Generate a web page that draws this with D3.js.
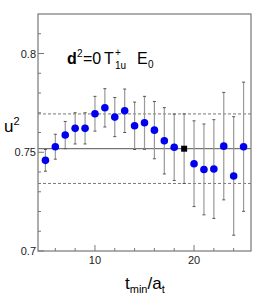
<!DOCTYPE html>
<html><head><meta charset="utf-8">
<script src="https://cdn.jsdelivr.net/npm/d3@7"></script>
<style>body{margin:0;background:#fff}svg{display:block}</style>
</head><body>
<svg id="c" width="266" height="297"></svg>
<script>
const tmin = [5,6,7,8,9,10,11,12,13,14,15,16,17,18,19,20,21,22,23,24,25];
const u2   = [0.7459,0.7528,0.7587,0.7621,0.7621,0.7695,0.7725,0.7678,0.7710,0.7634,0.7649,0.7612,0.7558,0.7525,0.7518,0.7442,0.7413,0.7415,0.7531,0.7380,0.7528];
const err  = [0.0055,0.0063,0.0069,0.0079,0.0079,0.0088,0.0097,0.0099,0.0110,0.0120,0.0134,0.0145,0.0168,0.0168,0.0176,0.0217,0.0230,0.0250,0.0272,0.0300,0.0327];
const chosen = 19;
const fitValue = 0.7518, fitErr = 0.0176;
const yTicks = [0.7,0.75,0.8];
const yTickLabels = ["0.7","0.75","0.8"];
const xTicks = [10,20];

const svg = d3.select("#c");
const L=38, R=251, T=14, B=251;
const x = d3.scaleLinear().domain([4.25,25.75]).range([L,R]);
const y = d3.scaleLinear().domain([0.7,0.82]).range([B,T]);
const axisCol="#777";
const ff="Liberation Sans, Arial, sans-serif";

// fit lines
svg.append("line").attr("x1",L).attr("x2",R).attr("y1",y(fitValue)).attr("y2",y(fitValue))
  .attr("stroke","#555").attr("stroke-width",1);
[fitValue+fitErr, fitValue-fitErr].forEach(v=>{
  svg.append("line").attr("x1",L).attr("x2",R).attr("y1",y(v)).attr("y2",y(v))
    .attr("stroke","#555").attr("stroke-width",0.8).attr("stroke-dasharray","3,2");
});

// ticks inside
const yMinor = d3.range(0.71,0.82,0.01).filter(v=>!yTicks.some(t=>Math.abs(t-v)<1e-6));
yMinor.forEach(v=>svg.append("line").attr("x1",L).attr("x2",L+3).attr("y1",y(v)).attr("y2",y(v)).attr("stroke",axisCol));
yTicks.forEach((v,i)=>{
  svg.append("line").attr("x1",L).attr("x2",L+6).attr("y1",y(v)).attr("y2",y(v)).attr("stroke",axisCol);
  svg.append("text").attr("x",L-2).attr("y",y(v)+4).attr("text-anchor","end")
    .attr("font-family",ff).attr("font-size",11).attr("fill","#222").text(yTickLabels[i]);
});
const xMinor = d3.range(6,26,2).filter(v=>!xTicks.includes(v));
xMinor.forEach(v=>svg.append("line").attr("x1",x(v)).attr("x2",x(v)).attr("y1",B).attr("y2",B-3).attr("stroke",axisCol));
xTicks.forEach(v=>{
  svg.append("line").attr("x1",x(v)).attr("x2",x(v)).attr("y1",B).attr("y2",B-6).attr("stroke",axisCol);
  svg.append("text").attr("x",x(v)).attr("y",B+13).attr("text-anchor","middle")
    .attr("font-family",ff).attr("font-size",11).attr("fill","#222").text(v);
});

// error bars
const g = svg.append("g");
tmin.forEach((t,i)=>{
  const cx=x(t), y1=y(u2[i]+err[i]), y2=y(u2[i]-err[i]);
  g.append("line").attr("x1",cx).attr("x2",cx).attr("y1",y1).attr("y2",y2).attr("stroke","#999").attr("stroke-width",1.2);
  [y1,y2].forEach(yy=>g.append("line").attr("x1",cx-1.5).attr("x2",cx+1.5).attr("y1",yy).attr("y2",yy).attr("stroke","#555").attr("stroke-width",1));
});
tmin.forEach((t,i)=>{
  if(t===chosen){
    g.append("rect").attr("x",x(t)-3).attr("y",y(u2[i])-3).attr("width",6).attr("height",6).attr("fill","#000");
  } else {
    g.append("circle").attr("cx",x(t)).attr("cy",y(u2[i])).attr("r",3.8).attr("fill","#0000ee");
  }
});

// frame
svg.append("rect").attr("x",L).attr("y",T).attr("width",R-L).attr("height",B-T)
  .attr("fill","none").attr("stroke",axisCol).attr("stroke-width",1.2);

// title (pieces placed like the ROOT latex layout)
const tg = svg.append("g").attr("font-family",ff).attr("fill","#000");
const piece=(px,py,fs,txt,bold)=>tg.append("text").attr("x",px).attr("y",py).attr("font-size",fs)
  .attr("font-weight",bold?"bold":"normal").text(txt);
piece(67,64,16,"d",true);
piece(77,57,10,"2");
piece(83,64,16,"=0");
piece(104,64,16,"T");
piece(115,56,10,"+");
piece(115,69,10,"1u");
piece(137,64,16,"E");
piece(148,68,10,"0");

// y label
const yl = svg.append("text").attr("x",4).attr("y",132).attr("font-family",ff).attr("font-size",17).attr("fill","#000");
yl.append("tspan").text("u");
yl.append("tspan").attr("font-size",11).attr("dy",-7).text("2");

// x label
const xl = svg.append("text").attr("x",125).attr("y",289).attr("font-family",ff).attr("font-size",17).attr("fill","#000");
xl.append("tspan").text("t");
xl.append("tspan").attr("font-size",11).attr("dy",4).text("min");
xl.append("tspan").attr("dy",-4).text("/a");
xl.append("tspan").attr("font-size",11).attr("dy",4).text("t");
</script>
</body></html>
